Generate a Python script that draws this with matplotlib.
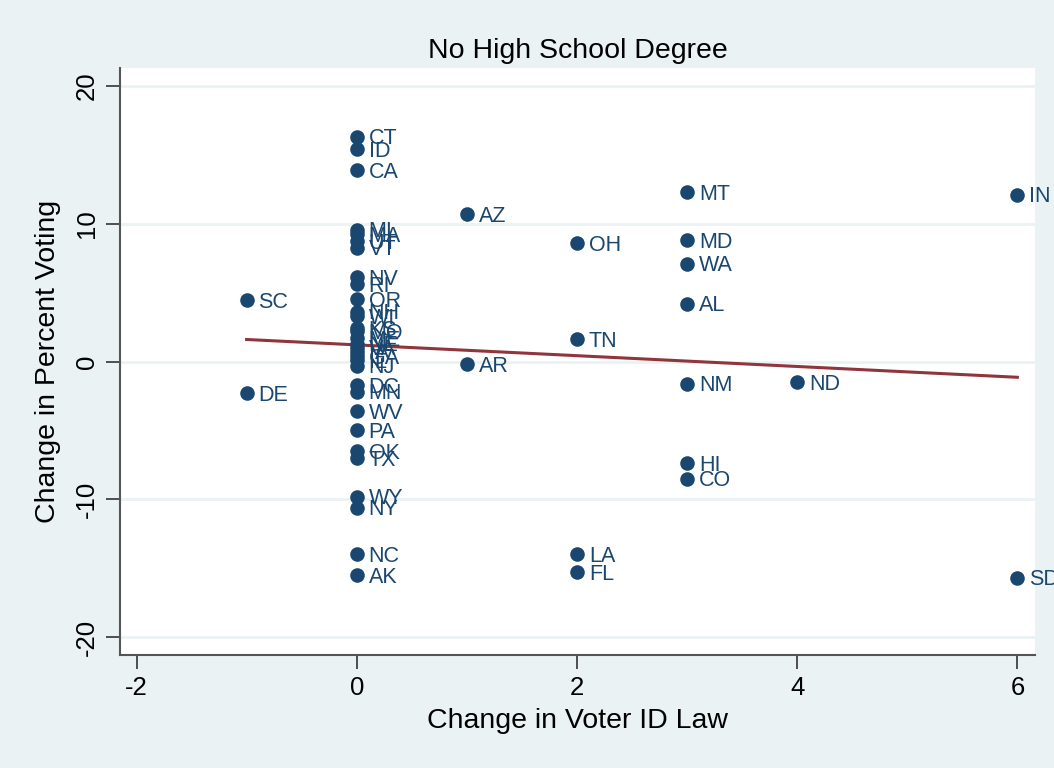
import numpy as np
import matplotlib.pyplot as plt

plt.rcParams['font.family'] = ['Liberation Sans', 'DejaVu Sans']
plt.rcParams['axes.unicode_minus'] = False

# Данные: изменение закона об ID избирателя и изменение явки
states = ['CT', 'ID', 'CA', 'MI', 'MA', 'UT', 'VT', 'NV', 'RI', 'OR', 'NH', 'WI',
          'KS', 'MO', 'ME', 'NE', 'VA', 'IA', 'GA', 'IL', 'NJ', 'DC', 'MN', 'WV',
          'PA', 'OK', 'TX', 'WY', 'NY', 'NC', 'AK',
          'SC', 'DE', 'AZ', 'AR', 'OH', 'TN', 'LA', 'FL',
          'MT', 'MD', 'WA', 'AL', 'NM', 'HI', 'CO', 'ND', 'IN', 'SD']
id_change = [0, 0, 0, 0, 0, 0, 0, 0, 0, 0, 0, 0,
             0, 0, 0, 0, 0, 0, 0, 0, 0, 0, 0, 0,
             0, 0, 0, 0, 0, 0, 0,
             -1, -1, 1, 1, 2, 2, 2, 2,
             3, 3, 3, 3, 3, 3, 3, 4, 6, 6]
vote_change = [16.3, 15.4, 13.9, 9.55, 9.25, 8.75, 8.25, 6.1, 5.6, 4.5, 3.6, 3.3,
               2.4, 2.2, 1.7, 1.3, 1.0, 0.7, 0.4, 0.1, -0.3, -1.7, -2.2, -3.6,
               -5.0, -6.5, -7.0, -9.8, -10.6, -14.0, -15.5,
               4.45, -2.3, 10.7, -0.2, 8.6, 1.6, -14.0, -15.3,
               12.3, 8.8, 7.1, 4.2, -1.6, -7.4, -8.5, -1.5, 12.1, -15.7]

navy = '#1a476f'
bg = '#eaf2f3'

fig = plt.figure(figsize=(10.54, 7.68), dpi=100, facecolor=bg)
ax = fig.add_axes([120 / 1054, 1 - 655 / 768, (1035 - 120) / 1054, (655 - 68) / 768])
ax.set_facecolor('white')

x = np.array(id_change, dtype=float)
y = np.array(vote_change)

ax.scatter(x, y, s=110, color=navy, zorder=3, linewidths=0)
for s, xi, yi in zip(states, x, y):
    ax.annotate(s, (xi, yi), xytext=(8.5, -1.5), textcoords='offset points',
                va='center', ha='left', color=navy, fontsize=15.5, zorder=4,
                annotation_clip=False)

# Линейная аппроксимация
k, b = np.polyfit(x, y, 1)
xl = np.array([x.min(), x.max()])
ax.plot(xl, k * xl + b, color='#90353b', linewidth=2.2, zorder=2)

ax.set_xlim(-2.15, 6.16)
ax.set_ylim(-21.3, 21.3)
ax.set_xticks([-2, 0, 2, 4, 6])
ax.set_yticks([-20, -10, 0, 10, 20])
ax.set_yticklabels(['-20', '-10', '0', '10', '20'], rotation=90, va='center')
ax.tick_params(axis='both', labelsize=18.5, length=10, width=1.2, color='#333333', pad=5)
ax.grid(axis='y', color=bg, linewidth=2)
ax.set_axisbelow(True)

for side in ['top', 'right']:
    ax.spines[side].set_visible(False)
for side in ['left', 'bottom']:
    ax.spines[side].set_color('#555555')
    ax.spines[side].set_linewidth(1.5)

ax.set_xlabel('Change in Voter ID Law', fontsize=20.5, labelpad=6)
ax.set_ylabel('Change in Percent Voting', fontsize=20.5, labelpad=10)
ax.set_title('No High School Degree', fontsize=20.5, pad=7)

fig.savefig('out.png', dpi=100, facecolor=bg)
